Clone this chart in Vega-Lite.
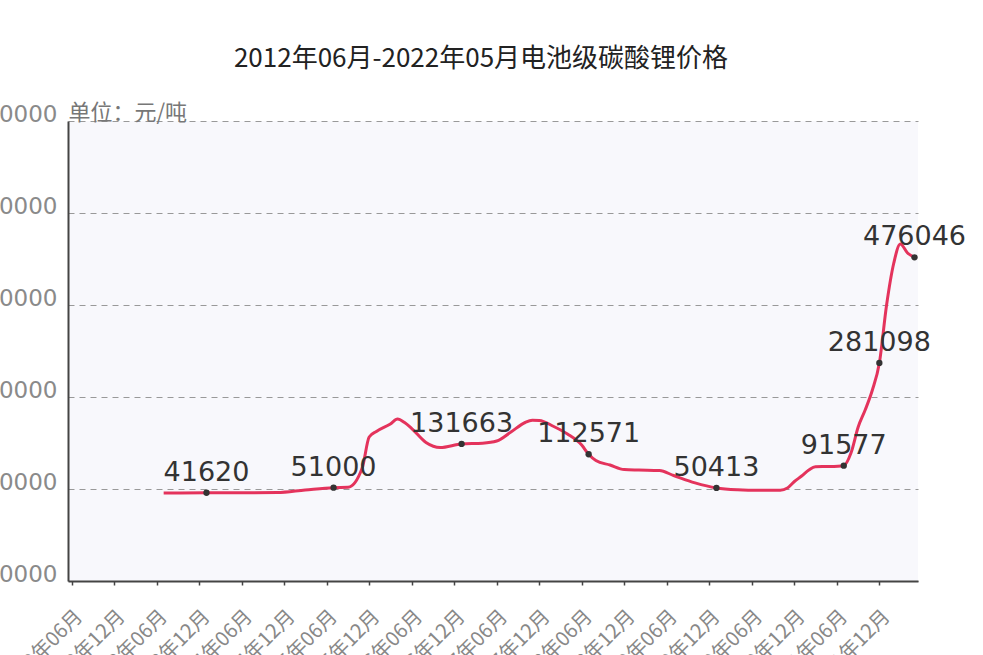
{
  "$schema": "https://vega.github.io/schema/vega-lite/v6.json",
  "autosize": "none",
  "padding": {"left": 68, "top": 121, "right": 65, "bottom": 74},
  "width": 850,
  "height": 460,
  "background": "white",
  "title": {
    "text": "2012年06月-2022年05月电池级碳酸锂价格",
    "font": "Noto Sans CJK SC",
    "fontSize": 26,
    "fontWeight": "normal",
    "color": "#222",
    "anchor": "middle",
    "dx": -12,
    "offset": 29
  },
  "data": {
    "values": [
      {"month": "2013/07/01", "price": 41000, "marked": false},
      {"month": "2014/01/01", "price": 41620, "marked": true},
      {"month": "2014/11/01", "price": 41800, "marked": false},
      {"month": "2015/03/01", "price": 46600, "marked": false},
      {"month": "2015/07/01", "price": 51000, "marked": true},
      {"month": "2015/09/01", "price": 51600, "marked": false},
      {"month": "2015/11/01", "price": 87200, "marked": false},
      {"month": "2015/12/01", "price": 144400, "marked": false},
      {"month": "2016/01/01", "price": 154600, "marked": false},
      {"month": "2016/03/01", "price": 168400, "marked": false},
      {"month": "2016/04/01", "price": 177600, "marked": false},
      {"month": "2016/05/01", "price": 171100, "marked": false},
      {"month": "2016/06/01", "price": 160100, "marked": false},
      {"month": "2016/08/01", "price": 134300, "marked": false},
      {"month": "2016/10/01", "price": 125000, "marked": false},
      {"month": "2017/01/01", "price": 131663, "marked": true},
      {"month": "2017/04/01", "price": 133000, "marked": false},
      {"month": "2017/06/01", "price": 137000, "marked": false},
      {"month": "2017/08/01", "price": 153600, "marked": false},
      {"month": "2017/10/01", "price": 171200, "marked": false},
      {"month": "2017/11/01", "price": 175200, "marked": false},
      {"month": "2017/12/01", "price": 174900, "marked": false},
      {"month": "2018/02/01", "price": 163800, "marked": false},
      {"month": "2018/04/01", "price": 150000, "marked": false},
      {"month": "2018/06/01", "price": 129600, "marked": false},
      {"month": "2018/07/01", "price": 112571, "marked": true},
      {"month": "2018/08/01", "price": 101000, "marked": false},
      {"month": "2018/10/01", "price": 92700, "marked": false},
      {"month": "2018/12/01", "price": 84400, "marked": false},
      {"month": "2019/02/01", "price": 83500, "marked": false},
      {"month": "2019/05/01", "price": 82600, "marked": false},
      {"month": "2019/07/01", "price": 73400, "marked": false},
      {"month": "2019/10/01", "price": 59800, "marked": false},
      {"month": "2020/01/01", "price": 50413, "marked": true},
      {"month": "2020/04/01", "price": 47000, "marked": false},
      {"month": "2020/07/01", "price": 46000, "marked": false},
      {"month": "2020/10/01", "price": 46200, "marked": false},
      {"month": "2020/11/01", "price": 50300, "marked": false},
      {"month": "2020/12/01", "price": 62300, "marked": false},
      {"month": "2021/01/01", "price": 72400, "marked": false},
      {"month": "2021/02/01", "price": 83500, "marked": false},
      {"month": "2021/03/01", "price": 89600, "marked": false},
      {"month": "2021/05/01", "price": 90000, "marked": false},
      {"month": "2021/07/01", "price": 91577, "marked": true},
      {"month": "2021/08/01", "price": 114900, "marked": false},
      {"month": "2021/09/01", "price": 162900, "marked": false},
      {"month": "2021/10/01", "price": 194200, "marked": false},
      {"month": "2021/11/01", "price": 231100, "marked": false},
      {"month": "2021/12/01", "price": 281098, "marked": true},
      {"month": "2022/01/01", "price": 388000, "marked": false},
      {"month": "2022/02/01", "price": 465500, "marked": false},
      {"month": "2022/03/01", "price": 500600, "marked": false},
      {"month": "2022/04/01", "price": 484000, "marked": false},
      {"month": "2022/05/01", "price": 476046, "marked": true}
    ]
  },
  "encoding": {
    "x": {
      "field": "month",
      "type": "temporal",
      "scale": {
        "domain": [
          {"year": 2012, "month": 5, "date": 16},
          {"year": 2022, "month": 5, "date": 16}
        ]
      },
      "axis": {
        "title": null,
        "format": "%Y年%m月",
        "values": [
          {"year": 2012, "month": 6, "date": 1}, {"year": 2012, "month": 12, "date": 1},
          {"year": 2013, "month": 6, "date": 1}, {"year": 2013, "month": 12, "date": 1},
          {"year": 2014, "month": 6, "date": 1}, {"year": 2014, "month": 12, "date": 1},
          {"year": 2015, "month": 6, "date": 1}, {"year": 2015, "month": 12, "date": 1},
          {"year": 2016, "month": 6, "date": 1}, {"year": 2016, "month": 12, "date": 1},
          {"year": 2017, "month": 6, "date": 1}, {"year": 2017, "month": 12, "date": 1},
          {"year": 2018, "month": 6, "date": 1}, {"year": 2018, "month": 12, "date": 1},
          {"year": 2019, "month": 6, "date": 1}, {"year": 2019, "month": 12, "date": 1},
          {"year": 2020, "month": 6, "date": 1}, {"year": 2020, "month": 12, "date": 1},
          {"year": 2021, "month": 6, "date": 1}, {"year": 2021, "month": 12, "date": 1}
        ],
        "labelAngle": -45,
        "labelFont": "Noto Sans CJK SC",
        "labelFontSize": 20,
        "labelColor": "#888",
        "labelPadding": 21,
        "labelOverlap": false,
        "labelFlush": false,
        "grid": false,
        "domainColor": "#444",
        "domainWidth": 2,
        "tickColor": "#444",
        "tickSize": 4,
        "tickWidth": 1.5
      }
    },
    "y": {
      "field": "price",
      "type": "quantitative",
      "scale": {"domain": [-121300, 727600], "zero": false, "nice": false},
      "axis": {
        "title": "单位：元/吨",
        "titleAngle": 0,
        "titleAlign": "left",
        "titleBaseline": "alphabetic",
        "titleX": 0,
        "titleY": -2,
        "titleFont": "Noto Sans CJK SC",
        "titleFontSize": 22,
        "titleFontWeight": "normal",
        "titleColor": "#777",
        "values": [-121300, 48480, 218260, 388040, 557820, 727600],
        "labelExpr": "format((round((datum.value + 121300) / 169780) + 1) * 100000, 'd')",
        "labelFont": "DejaVu Sans",
        "labelFontSize": 23,
        "labelColor": "#8a8a8a",
        "labelBaseline": "alphabetic",
        "labelPadding": 11,
        "ticks": false,
        "domainColor": "#444",
        "domainWidth": 2,
        "grid": true,
        "gridColor": "#999",
        "gridDash": [6, 5],
        "gridWidth": 1.2
      }
    }
  },
  "layer": [
    {
      "mark": {"type": "line", "color": "#e4335c", "strokeWidth": 3, "interpolate": "monotone"}
    },
    {
      "transform": [{"filter": "datum.marked"}],
      "mark": {"type": "point", "filled": true, "color": "#333", "size": 40, "opacity": 1}
    },
    {
      "transform": [{"filter": "datum.marked"}],
      "mark": {
        "type": "text",
        "font": "DejaVu Sans",
        "fontSize": 27,
        "color": "#333",
        "align": "center",
        "baseline": "alphabetic",
        "dy": -12
      },
      "encoding": {"text": {"field": "price", "type": "quantitative", "format": "d"}}
    }
  ],
  "config": {
    "view": {"fill": "#f8f8fc", "stroke": null}
  }
}
